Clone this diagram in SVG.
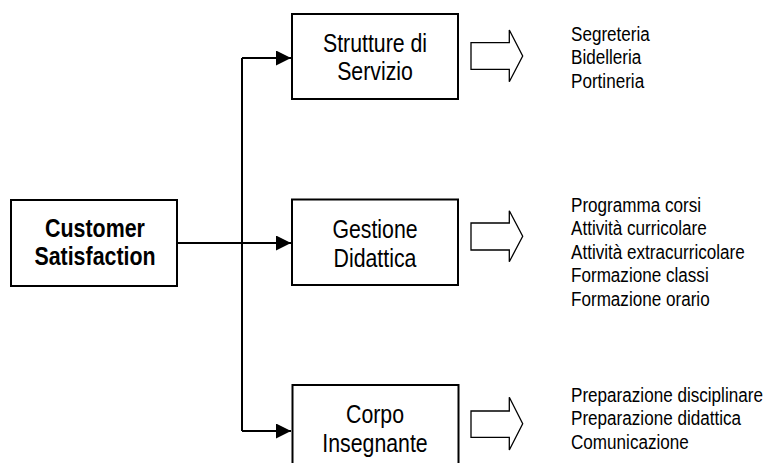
<svg xmlns="http://www.w3.org/2000/svg" width="767" height="463" viewBox="0 0 767 463">
<style>
.box{fill:#fff;stroke:#000;stroke-width:2}
.blk{fill:#fff;stroke:#000;stroke-width:1.3;stroke-linejoin:miter}
.ln{fill:none;stroke:#000;stroke-width:2}
.t{font-family:"Liberation Sans",Arial,sans-serif;font-size:21.3px;fill:#000;text-anchor:middle}
.tb{font-family:"Liberation Sans",Arial,sans-serif;font-size:21.4px;font-weight:bold;fill:#000;text-anchor:middle}
.l{font-family:"Liberation Sans",Arial,sans-serif;font-size:17.1px;fill:#000}
</style>
<defs>
<marker id="ah" markerWidth="15" markerHeight="15" viewBox="0 0 15 15" refX="15" refY="7.5" orient="auto" markerUnits="userSpaceOnUse">
<path d="M0,0 L15,7.5 L0,15 Z" fill="#000"/>
</marker>
</defs>
<rect width="767" height="463" fill="#fff"/>
<g id="connectors">
<path class="ln" d="M177,243 H291"/>
<path class="ln" d="M242,58 V431"/>
<path class="ln" d="M242,58 H291" marker-end="url(#ah)"/>
<path class="ln" d="M242,243 H291" marker-end="url(#ah)"/>
<path class="ln" d="M242,431 H291" marker-end="url(#ah)"/>
</g>
<g id="customer">
<rect class="box" x="11" y="200" width="166" height="86"/>
<text class="tb" transform="translate(95,236.7) scale(1,1.2)">Customer</text>
<text class="tb" transform="translate(95,265) scale(1,1.2)">Satisfaction</text>
</g>
<g id="strutture">
<rect class="box" x="292" y="14" width="166" height="85"/>
<text class="t" transform="translate(375,51.7) scale(1,1.2)">Strutture di</text>
<text class="t" transform="translate(375,80) scale(1,1.2)">Servizio</text>
</g>
<g id="gestione">
<rect class="box" x="292" y="199.5" width="166" height="85.5"/>
<text class="t" transform="translate(375,238.3) scale(1,1.2)">Gestione</text>
<text class="t" transform="translate(375,266.7) scale(1,1.2)">Didattica</text>
</g>
<g id="corpo">
<rect class="box" x="292.5" y="385" width="166" height="86"/>
<text class="t" transform="translate(375,422.5) scale(1,1.2)">Corpo</text>
<text class="t" transform="translate(375,451.5) scale(1,1.2)">Insegnante</text>
</g>
<g id="arrow1">
<path class="blk" d="M471,42.7 H509.3 V30 L522.7,56 L509.3,81.7 V69.3 H471 Z"/>
</g>
<g id="arrow2">
<path class="blk" d="M471,223 H509.3 V210.7 L522.7,236.3 L509.3,261.7 V250 H471 Z"/>
</g>
<g id="arrow3">
<path class="blk" d="M471,411 H509.3 V397.3 L522.7,423.7 L509.3,450 V437.3 H471 Z"/>
</g>
<g id="list1">
<text class="l" transform="translate(571,40.7) scale(1,1.2)">Segreteria</text>
<text class="l" transform="translate(571,64.3) scale(1,1.2)">Bidelleria</text>
<text class="l" transform="translate(571,88) scale(1,1.2)">Portineria</text>
</g>
<g id="list2">
<text class="l" transform="translate(571,211.7) scale(1,1.2)">Programma corsi</text>
<text class="l" transform="translate(571,235.2) scale(1,1.2)">Attività curricolare</text>
<text class="l" transform="translate(571,258.7) scale(1,1.2)">Attività extracurricolare</text>
<text class="l" transform="translate(571,282.2) scale(1,1.2)">Formazione classi</text>
<text class="l" transform="translate(571,305.7) scale(1,1.2)">Formazione orario</text>
</g>
<g id="list3">
<text class="l" transform="translate(571,401.7) scale(1,1.2)">Preparazione disciplinare</text>
<text class="l" transform="translate(571,425.2) scale(1,1.2)">Preparazione didattica</text>
<text class="l" transform="translate(571,448.7) scale(1,1.2)">Comunicazione</text>
</g>
</svg>
